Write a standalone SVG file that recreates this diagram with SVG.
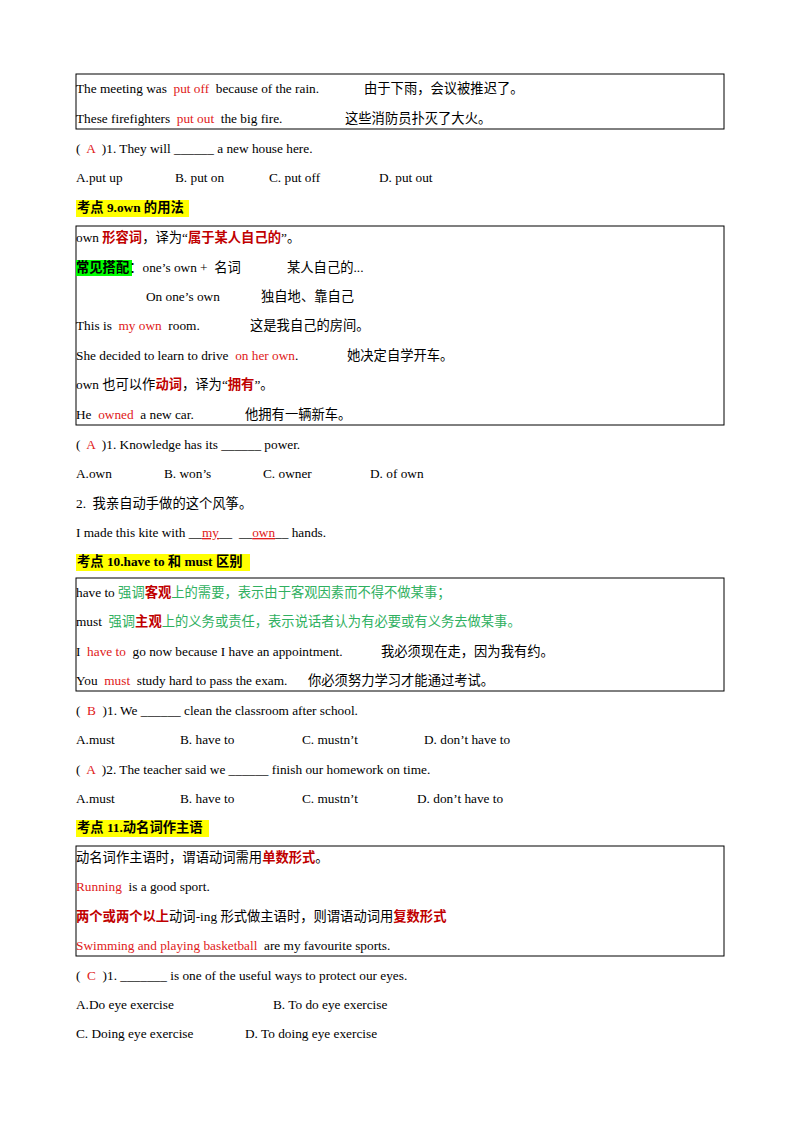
<svg xmlns="http://www.w3.org/2000/svg" width="800" height="1132" viewBox="0 0 800 1132">
<style>
text{font-family:"Liberation Serif","Noto Sans CJK SC",serif;font-size:13.3px;fill:#000;white-space:pre}
.r{fill:#e02020}.g{fill:#2fb060}.b{font-weight:bold}.dr{fill:#c00000;font-weight:bold}
.box{fill:none;stroke:#000;stroke-width:1}
.hl{fill:#ffff00}.gl{fill:#00ff00}
</style>
<rect width="800" height="1132" fill="#fff"/>
<g id="box1">
<rect class="box" x="76" y="74" width="648" height="55"/>
<text x="76" y="93">The meeting was  <tspan class="r">put off</tspan>  because of the rain.<tspan x="364">由于下雨，会议被推迟了。</tspan></text>
<text x="76" y="123">These firefighters  <tspan class="r">put out</tspan>  the big fire.<tspan x="345">这些消防员扑灭了大火。</tspan></text>
</g>
<g id="q1">
<text x="76" y="153">(  <tspan class="r">A</tspan>  )1. They will ______ a new house here.</text>
<text x="76" y="182">A.put up<tspan x="175">B. put on</tspan><tspan x="269">C. put off</tspan><tspan x="379">D. put out</tspan></text>
</g>
<g id="h9">
<rect class="hl" x="76" y="200" width="113" height="17"/>
<text x="77" y="212" class="b">考点 9.own 的用法</text>
</g>
<g id="box2">
<rect class="box" x="76" y="226" width="648" height="199"/>
<text x="76" y="242">own <tspan class="dr">形容词</tspan>，译为“<tspan class="dr">属于某人自己的</tspan>”。</text>
<rect class="gl" x="76" y="260" width="56" height="16"/>
<text x="76" y="272"><tspan class="b">常见搭配</tspan>：one’s own +  名词<tspan x="287">某人自己的...</tspan></text>
<text x="146" y="301">On one’s own<tspan x="261">独自地、靠自己</tspan></text>
<text x="76" y="330">This is  <tspan class="r">my own</tspan>  room.<tspan x="250">这是我自己的房间。</tspan></text>
<text x="76" y="360">She decided to learn to drive  <tspan class="r">on her own</tspan>.<tspan x="347">她决定自学开车。</tspan></text>
<text x="76" y="389">own 也可以作<tspan class="dr">动词</tspan>，译为“<tspan class="dr">拥有</tspan>”。</text>
<text x="76" y="419">He  <tspan class="r">owned</tspan>  a new car.<tspan x="245">他拥有一辆新车。</tspan></text>
</g>
<g id="q2">
<text x="76" y="449">(  <tspan class="r">A</tspan>  )1. Knowledge has its ______ power.</text>
<text x="76" y="478">A.own<tspan x="164">B. won’s</tspan><tspan x="263">C. owner</tspan><tspan x="370">D. of own</tspan></text>
<text x="76" y="508">2.  我亲自动手做的这个风筝。</text>
<text x="76" y="537">I made this kite with __<tspan class="r" text-decoration="underline">my</tspan>__  __<tspan class="r" text-decoration="underline">own</tspan>__ hands.</text>
</g>
<g id="h10">
<rect class="hl" x="76" y="554" width="174" height="17"/>
<text x="77" y="566" class="b">考点 10.have to 和 must 区别</text>
</g>
<g id="box3">
<rect class="box" x="76" y="578" width="648" height="113"/>
<text x="76" y="597">have to <tspan class="g">强调</tspan><tspan class="dr">客观</tspan><tspan class="g">上的需要，表示由于客观因素而不得不做某事；</tspan></text>
<text x="76" y="626">must  <tspan class="g">强调</tspan><tspan class="dr">主观</tspan><tspan class="g">上的义务或责任，表示说话者认为有必要或有义务去做某事。</tspan></text>
<text x="76" y="656">I  <tspan class="r">have to</tspan>  go now because I have an appointment.<tspan x="381">我必须现在走，因为我有约。</tspan></text>
<text x="76" y="685">You  <tspan class="r">must</tspan>  study hard to pass the exam.<tspan x="308">你必须努力学习才能通过考试。</tspan></text>
</g>
<g id="q3">
<text x="76" y="715">(  <tspan class="r">B</tspan>  )1. We ______ clean the classroom after school.</text>
<text x="76" y="744">A.must<tspan x="180">B. have to</tspan><tspan x="302">C. mustn’t</tspan><tspan x="424">D. don’t have to</tspan></text>
<text x="76" y="774">(  <tspan class="r">A</tspan>  )2. The teacher said we ______ finish our homework on time.</text>
<text x="76" y="803">A.must<tspan x="180">B. have to</tspan><tspan x="302">C. mustn’t</tspan><tspan x="417">D. don’t have to</tspan></text>
</g>
<g id="h11">
<rect class="hl" x="76" y="820" width="133" height="17"/>
<text x="77" y="832" class="b">考点 11.动名词作主语</text>
</g>
<g id="box4">
<rect class="box" x="76" y="846" width="648" height="110"/>
<text x="76" y="862">动名词作主语时，谓语动词需用<tspan class="dr">单数形式</tspan>。</text>
<text x="76" y="891"><tspan class="r">Running</tspan>  is a good sport.</text>
<text x="76" y="921"><tspan class="dr">两个或两个以上</tspan>动词-ing 形式做主语时，则谓语动词用<tspan class="dr">复数形式</tspan></text>
<text x="76" y="950"><tspan class="r">Swimming and playing basketball</tspan>  are my favourite sports.</text>
</g>
<g id="q4">
<text x="76" y="980">(  <tspan class="r">C</tspan>  )1. _______ is one of the useful ways to protect our eyes.</text>
<text x="76" y="1009">A.Do eye exercise<tspan x="273">B. To do eye exercise</tspan></text>
<text x="76" y="1038">C. Doing eye exercise<tspan x="245">D. To doing eye exercise</tspan></text>
</g>
</svg>
